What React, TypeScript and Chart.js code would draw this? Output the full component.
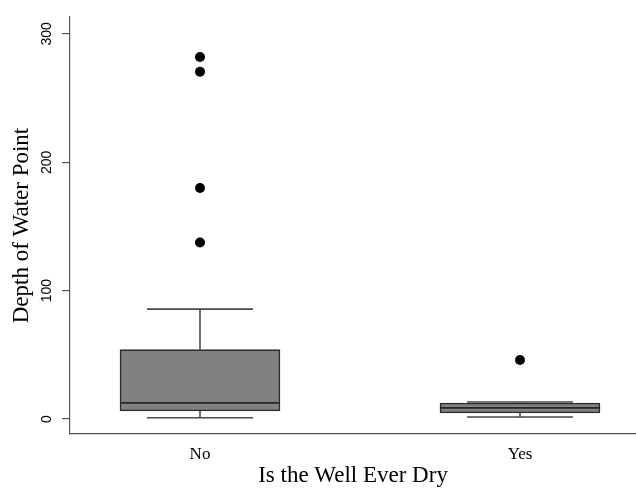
import React, { useEffect, useRef } from "react";
import { Chart, registerables } from "chart.js";

Chart.register(...registerables);

const categories = ["No", "Yes"];
const whiskerLow = [1, 1.5];
const q1 = [6.2, 4.7];
const medians = [12.6, 8.6];
const q3 = [54, 12.4];
const whiskerHigh = [85.6, 13.2];
const outliersNo = [282, 270.5, 180, 137.5];
const outliersYes = [46];
const yTicks = [0, 100, 200, 300];
const yTitle = "Depth of Water Point";
const xTitle = "Is the Well Ever Dry";

const boxPlugin = {
  id: "boxWhiskers",
  afterDatasetsDraw(chart: any) {
    const { ctx, scales } = chart;
    const xs = scales.x;
    const ys = scales.y;
    const capHalf = 53;
    const boxHalf = 80;
    ctx.save();
    categories.forEach((_, i) => {
      const px = xs.getPixelForValue(i + 1);
      const yLo = ys.getPixelForValue(whiskerLow[i]);
      const yQ1 = ys.getPixelForValue(q1[i]);
      const yQ3 = ys.getPixelForValue(q3[i]);
      const yHi = ys.getPixelForValue(whiskerHigh[i]);
      const yMed = ys.getPixelForValue(medians[i]);
      ctx.strokeStyle = "#4a4a4a";
      ctx.lineWidth = 1.6;
      ctx.beginPath();
      ctx.moveTo(px, yQ3);
      ctx.lineTo(px, yHi);
      ctx.moveTo(px - capHalf, yHi);
      ctx.lineTo(px + capHalf, yHi);
      ctx.moveTo(px, yQ1);
      ctx.lineTo(px, yLo);
      ctx.moveTo(px - capHalf, yLo);
      ctx.lineTo(px + capHalf, yLo);
      ctx.stroke();
      ctx.strokeStyle = "#262626";
      ctx.lineWidth = 1.8;
      ctx.beginPath();
      ctx.moveTo(px - boxHalf, yMed);
      ctx.lineTo(px + boxHalf, yMed);
      ctx.stroke();
    });
    ctx.restore();
  },
};

export default function App() {
  const ref = useRef<HTMLCanvasElement | null>(null);
  useEffect(() => {
    if (!ref.current) return;
    const chart = new Chart(ref.current, {
      type: "bar",
      data: {
        datasets: [
          {
            type: "bar",
            data: categories.map((_, i) => ({ x: i + 1, y: [q1[i], q3[i]] })) as any,
            backgroundColor: "#818181",
            borderColor: "#2e2e2e",
            borderWidth: 1.6,
            borderSkipped: false,
            barThickness: 160,
          } as any,
          {
            type: "scatter",
            data: [
              ...outliersNo.map((v) => ({ x: 1, y: v })),
              ...outliersYes.map((v) => ({ x: 2, y: v })),
            ],
            backgroundColor: "#000000",
            borderColor: "#000000",
            pointRadius: 5,
            pointBorderWidth: 0,
          } as any,
        ],
      },
      plugins: [boxPlugin],
      options: {
        animation: false,
        responsive: false,
        maintainAspectRatio: false,
        layout: { autoPadding: false, padding: { left: 0, right: 0, top: 17, bottom: 0 } },
        plugins: { legend: { display: false }, tooltip: { enabled: false } },
        scales: {
          x: {
            type: "linear",
            offset: false,
            min: 0.59375,
            max: 2.3625,
            afterBuildTicks: (s: any) => {
              s.ticks = categories.map((_, i) => ({ value: i + 1 }));
            },
            afterFit: (s: any) => {
              s.height = 56;
            },
            grid: { display: false, drawTicks: false, offset: false },
            border: { display: true, color: "#555555", width: 1.2 },
            ticks: {
              padding: 10,
              color: "#000000",
              font: { family: "Liberation Serif", size: 17 },
              callback: (v: any) => categories[Number(v) - 1] ?? "",
            },
            title: {
              display: true,
              text: xTitle,
              color: "#000000",
              font: { family: "Liberation Serif", size: 23 },
              padding: { top: 0, bottom: 0 },
            },
          },
          y: {
            type: "linear",
            min: -11.7,
            max: 313.2,
            afterBuildTicks: (s: any) => {
              s.ticks = yTicks.map((v) => ({ value: v }));
            },
            afterFit: (s: any) => {
              s.width = 70;
            },
            grid: {
              display: true,
              drawOnChartArea: false,
              drawTicks: true,
              tickLength: 8,
              color: "#555555",
              lineWidth: 1.2,
            },
            border: { display: true, color: "#555555", width: 1.2 },
            ticks: {
              minRotation: 90,
              maxRotation: 90,
              crossAlign: "center",
              padding: 3,
              color: "#000000",
              font: { family: "Liberation Sans", size: 14 },
            },
            title: {
              display: true,
              text: yTitle,
              color: "#000000",
              font: { family: "Liberation Serif", size: 23 },
              padding: { top: 8, bottom: 0 },
            },
          },
        },
      } as any,
    });
    return () => chart.destroy();
  }, []);
  return (
    <div style={{ position: "fixed", left: 0, top: 0, width: 636, height: 490, background: "#ffffff" }}>
      <canvas ref={ref} width={636} height={490} style={{ width: 636, height: 490 }} />
    </div>
  );
}
